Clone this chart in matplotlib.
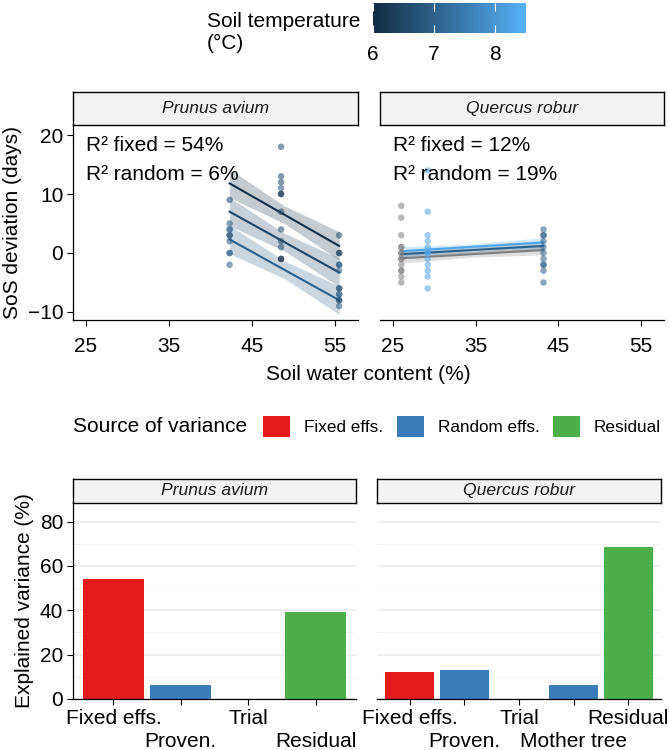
import numpy as np
import matplotlib
matplotlib.use("Agg")
import matplotlib.pyplot as plt
from matplotlib.colors import LinearSegmentedColormap, Normalize
from matplotlib.cm import ScalarMappable
from matplotlib.patches import Patch

plt.rcParams['font.family'] = ['Liberation Sans', 'DejaVu Sans']

# ---- data: scatter (SoS deviation vs soil water content) ----
prunus_x = [42.3] * 10 + [48.5] * 12 + [55.5] * 13
prunus_y = [9, 5, 4, 4, 3, 3, 2, 0, 0, -2,
            18, 13, 12, 11, 10, 10, 7, 4, 2, 1, -1, -1,
            3, 0, 0, -2, -2, -3, -6, -6, -7, -7, -8, -8, -9]
prunus_t = [6.5, 6.8, 7.0, 7.0, 7.0, 6.5, 6.8, 7.0, 7.0, 6.8,
            6.5, 6.5, 6.5, 6.8, 6.1, 6.1, 6.5, 6.5, 6.5, 6.5, 6.1, 6.1,
            6.5, 6.1, 6.5, 6.5, 7.0, 7.0, 7.0, 6.5, 7.0, 7.0, 7.0, 6.5, 6.8]

quercus_x = [26.0] * 14 + [29.2] * 12 + [43.2] * 11
quercus_y = [8, 6, 3, 1, 1, 0, 0, -1, -1, -2, -3, -3, -4, -5,
             14, 7, 3, 2, 1, 0, 0, -1, -2, -3, -4, -6,
             4, 3, 3, 2, 1, 0, -1, -2, -2, -3, -5]
quercus_t = [np.nan] * 14 + [8.3] * 12 + [7.0] * 11

# fitted lines: temperature, x start/mid/end, fit start/mid/end, CI half width start/mid/end
prunus_fit_t = [6.1, 6.5, 7.0]
prunus_fit_x = [42.3, 48.9, 55.5]
prunus_fit_y = [[11.8, 6.5, 1.2], [7.0, 1.85, -3.3], [2.3, -2.85, -8.0]]
prunus_fit_ci = [2.4, 1.5, 2.4]

quercus_fit_t = [np.nan, 7.0, 8.3]
quercus_fit_x = [26.0, 34.6, 43.2]
quercus_fit_y = [[-0.9, -0.2, 0.5], [-0.2, 0.5, 1.2], [0.3, 1.05, 1.8]]
quercus_fit_ci = [0.8, 0.5, 0.8]

r2_text = {"Prunus avium": ("R² fixed = 54%", "R² random = 6%"),
           "Quercus robur": ("R² fixed = 12%", "R² random = 19%")}

# ---- data: variance partition ----
prunus_cats = ["Fixed effs.", "Proven.", "Trial", "Residual"]
prunus_var = [54.2, 6.3, 0.0, 39.3]
prunus_src = ["Fixed effs.", "Random effs.", "Random effs.", "Residual"]
quercus_cats = ["Fixed effs.", "Proven.", "Trial", "Mother tree", "Residual"]
quercus_var = [12.0, 12.9, 0.0, 6.2, 68.4]
quercus_src = ["Fixed effs.", "Random effs.", "Random effs.", "Random effs.", "Residual"]

src_colors = {"Fixed effs.": "#E41A1C", "Random effs.": "#377EB8", "Residual": "#4DAF4A"}

W, H = 669, 750
fig = plt.figure(figsize=(W / 100, H / 100), dpi=100)


def box(x0, y0, x1, y1):
    return [x0 / W, 1 - y1 / H, (x1 - x0) / W, (y1 - y0) / H]


cmap = LinearSegmentedColormap.from_list("gg", ["#132B43", "#346E9D", "#56B1F7"])
norm = Normalize(6.0, 8.51)
na_col = "#7f7f7f"


def tcol(t):
    return na_col if np.isnan(t) else cmap(norm(t))


def strip(rect, label):
    s = fig.add_axes(rect)
    s.set_facecolor("#f2f2f2")
    s.set_xticks([]); s.set_yticks([])
    for sp in s.spines.values():
        sp.set_linewidth(1.0)
    s.text(0.5, 0.5, label, style="italic", fontsize=12.6, color="#1a1a1a",
           ha="center", va="center", transform=s.transAxes)


# ---- top panels ----
panels = [("Prunus avium", 73, 358, prunus_x, prunus_y, prunus_t,
           prunus_fit_t, prunus_fit_x, prunus_fit_y, prunus_fit_ci),
          ("Quercus robur", 380, 664, quercus_x, quercus_y, quercus_t,
           quercus_fit_t, quercus_fit_x, quercus_fit_y, quercus_fit_ci)]

for i, (name, x0, x1, px, py, pt, ft, fx, fy, fci) in enumerate(panels):
    ax = fig.add_axes(box(x0, 125, x1, 320))
    strip(box(x0, 92, x1, 125), name)
    cols = [tcol(t) for t in pt]
    ax.scatter(px, py, c=cols, s=22, alpha=0.55, linewidths=0, zorder=3)
    for t, yy in zip(ft, fy):
        c = tcol(t)
        yy = np.array(yy)
        ci = np.array(fci)
        ax.fill_between(fx, yy - ci, yy + ci, color=c, alpha=0.25, lw=0, zorder=1)
        ax.plot(fx, yy, color=c, lw=1.5, zorder=2)
    ax.set_xlim(23.43, 57.77)
    ax.set_ylim(-11.36, 21.7)
    ax.set_xticks([25, 35, 45, 55])
    ax.spines[["top", "right"]].set_visible(False)
    ax.tick_params(labelsize=15, length=4, width=0.8, colors="black", pad=8)
    ax.tick_params(axis="y", pad=3)
    if i == 0:
        ax.set_yticks([-10, 0, 10, 20])
        ax.set_ylabel("SoS deviation (days)", fontsize=15, labelpad=4)
    else:
        ax.spines["left"].set_visible(False)
        ax.set_yticks([])
    for sp in ax.spines.values():
        sp.set_linewidth(0.9)
    t1, t2 = r2_text[name]
    ax.text(25, 18.2, t1, fontsize=15, ha="left", va="center")
    ax.text(25, 13.3, t2, fontsize=15, ha="left", va="center")

fig.text(368 / W, 1 - 375 / H, "Soil water content (%)", fontsize=15,
         ha="center", va="center")

# ---- colorbar ----
cax = fig.add_axes(box(373, 3, 526, 33))
cb = fig.colorbar(ScalarMappable(norm=norm, cmap=cmap), cax=cax, orientation="horizontal")
cb.outline.set_visible(False)
cb.set_ticks([6, 7, 8])
cax.tick_params(axis="x", direction="in", length=6, width=0.8, color="white",
                labelcolor="black", labelsize=15, top=True, pad=9)
fig.text(207 / W, 1 - 21.5 / H, "Soil temperature", fontsize=15, ha="left", va="center")
fig.text(207 / W, 1 - 43 / H, "(°C)", fontsize=15, ha="left", va="center")

# ---- legend for variance source ----
fig.text(73 / W, 1 - 426.5 / H, "Source of variance", fontsize=15, ha="left", va="center")
handles = [Patch(facecolor=c, edgecolor="none", label=k) for k, c in src_colors.items()]
fig.legend(handles=handles, ncol=3, frameon=False, fontsize=12.3,
           loc="center left", bbox_to_anchor=(263 / W, 1 - 426.5 / H),
           handlelength=1.6, handleheight=1.6, handletextpad=0.8,
           columnspacing=0.8, borderpad=0, borderaxespad=0)

# ---- bottom panels ----
bars = [("Prunus avium", 73, 356, prunus_cats, prunus_var, prunus_src),
        ("Quercus robur", 377, 661, quercus_cats, quercus_var, quercus_src)]

for i, (name, x0, x1, cats, vals, srcs) in enumerate(bars):
    ax = fig.add_axes(box(x0, 503, x1, 699))
    strip(box(x0, 479, x1, 503), name)
    pos = np.arange(len(cats))
    ax.bar(pos, vals, width=0.9, color=[src_colors[s] for s in srcs], zorder=2)
    ax.set_xlim(-0.6, len(cats) - 0.4)
    ax.set_ylim(0, 88.4)
    ax.set_yticks([0, 20, 40, 60, 80])
    ax.set_yticks([10, 30, 50, 70], minor=True)
    ax.grid(axis="y", which="major", color="#ebebeb", lw=1.1, zorder=0)
    ax.grid(axis="y", which="minor", color="#f3f3f3", lw=0.7, zorder=0)
    ax.set_xticks(pos)
    ax.set_xticklabels(cats)
    ax.spines[["top", "right"]].set_visible(False)
    ax.tick_params(labelsize=15, length=4, width=0.8, colors="black", pad=3)
    ax.tick_params(axis="y", which="minor", length=0)
    # dodge labels into two rows
    for k, tk in enumerate(ax.xaxis.get_major_ticks()):
        tk.set_pad(3 if k % 2 == 0 else 20)
    if i == 0:
        ax.set_ylabel("Explained variance (%)", fontsize=15, labelpad=4)
    else:
        ax.spines["left"].set_visible(False)
        ax.tick_params(axis="y", which="both", left=False, labelleft=False)
    for sp in ax.spines.values():
        sp.set_linewidth(0.9)

fig.savefig("out.png", dpi=100)
